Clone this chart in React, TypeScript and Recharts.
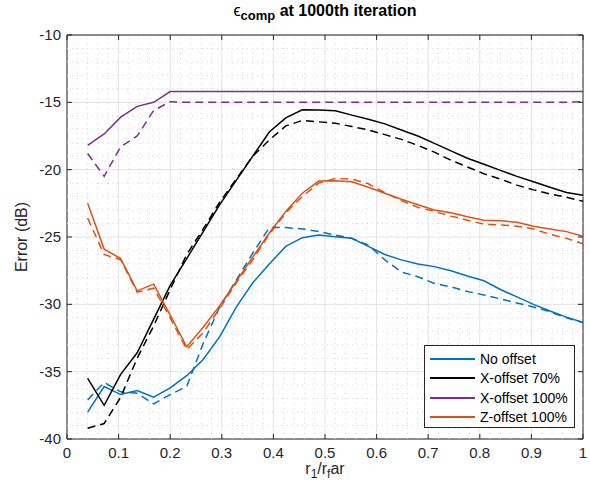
import React from 'react';
import {
  LineChart,
  Line,
  XAxis,
  YAxis,
  CartesianGrid,
  ReferenceLine,
  ReferenceArea
} from 'recharts';

// r1/rfar sample positions
const xValues = [
  0.04, 0.072, 0.104, 0.136, 0.168, 0.2, 0.232, 0.264, 0.296, 0.328, 0.36,
  0.392, 0.424, 0.456, 0.488, 0.52, 0.552, 0.584, 0.616, 0.648, 0.68, 0.712,
  0.744, 0.776, 0.808, 0.84, 0.872, 0.904, 0.936, 0.968, 1.0
];

const noOffset = [
  -38.0, -36.1, -36.7, -36.4, -36.9, -36.2, -35.3, -34.1, -32.4, -30.2, -28.4,
  -27.0, -25.7, -25.05, -24.85, -24.98, -25.1, -25.7, -26.3, -26.7, -27.0, -27.2,
  -27.5, -27.9, -28.25, -28.9, -29.45, -30.0, -30.5, -30.95, -31.35
];
const noOffsetDash = [
  -37.1, -35.8, -36.5, -36.6, -37.4, -36.7, -36.1, -32.9, -30.2, -28.2, -26.2,
  -24.3, -24.3, -24.4, -24.6, -24.85, -25.1, -25.6, -26.7, -27.6, -27.95, -28.45,
  -28.7, -29.05, -29.3, -29.6, -29.9, -30.2, -30.55, -31.0, -31.35
];

const xOffset70 = [
  -35.5, -37.5, -35.2, -33.6, -31.1, -28.6, -26.6, -24.6, -22.6, -20.8, -19.0,
  -17.2, -16.15, -15.55, -15.57, -15.62, -15.95, -16.25, -16.6, -17.05, -17.5, -18.05,
  -18.6, -19.15, -19.6, -20.05, -20.5, -20.9, -21.3, -21.7, -21.9
];
const xOffset70Dash = [
  -39.2, -38.85, -36.9, -34.0, -31.6, -28.9, -26.3, -24.4, -22.4, -20.7, -19.0,
  -17.8, -16.75, -16.35, -16.45, -16.55, -16.8, -17.05, -17.4, -17.75, -18.2, -18.7,
  -19.3, -19.8, -20.3, -20.7, -21.15, -21.5, -21.8, -22.05, -22.35
];

const xOffset100 = [
  -18.2, -17.35, -16.1, -15.3, -15.0, -14.2, -14.2, -14.2, -14.2, -14.2, -14.2,
  -14.2, -14.2, -14.2, -14.2, -14.2, -14.2, -14.2, -14.2, -14.2, -14.2, -14.2,
  -14.2, -14.2, -14.2, -14.2, -14.2, -14.2, -14.2, -14.2, -14.2
];
const xOffset100Dash = [
  -18.8, -20.5, -18.3, -17.5, -15.6, -14.95, -15.0, -15.0, -15.0, -15.0, -15.0,
  -15.0, -15.0, -15.0, -15.0, -15.0, -15.0, -15.0, -15.0, -15.0, -15.0, -15.0,
  -15.0, -15.0, -15.0, -15.0, -15.0, -15.0, -15.0, -15.0, -14.95
];

const zOffset100 = [
  -22.5, -25.9, -26.6, -29.0, -28.5, -30.8, -33.15, -31.7, -30.1, -28.3, -26.5,
  -24.7, -23.1, -21.75, -20.85, -20.82, -20.9, -21.3, -21.75, -22.2, -22.6, -23.0,
  -23.2, -23.5, -23.75, -23.8, -23.9, -24.2, -24.4, -24.6, -24.95
];
const zOffset100Dash = [
  -23.6, -26.3, -26.7, -29.1, -28.8, -31.0, -33.35, -32.1, -30.3, -28.4, -26.7,
  -24.8, -23.2, -22.0, -21.0, -20.65, -20.7, -21.05, -21.7, -22.3, -22.8, -23.1,
  -23.45, -23.75, -24.05, -24.1, -24.2, -24.4, -24.8, -25.1, -25.5
];

const xTicks = [0, 0.1, 0.2, 0.3, 0.4, 0.5, 0.6, 0.7, 0.8, 0.9, 1];
const yTicks = [-40, -35, -30, -25, -20, -15, -10];

const legendItems = [
  { name: 'No offset', color: '#0072BD' },
  { name: 'X-offset 70%', color: '#000000' },
  { name: 'X-offset 100%', color: '#7E2F8E' },
  { name: 'Z-offset 100%', color: '#D95319' }
];

const data = xValues.map((x, i) => ({
  x,
  noOffset: noOffset[i],
  noOffsetDash: noOffsetDash[i],
  xOffset70: xOffset70[i],
  xOffset70Dash: xOffset70Dash[i],
  xOffset100: xOffset100[i],
  xOffset100Dash: xOffset100Dash[i],
  zOffset100: zOffset100[i],
  zOffset100Dash: zOffset100Dash[i]
}));

// minor grid: 0.02 steps on x, 1 dB on y (skip majors)
const xMinor: number[] = [];
for (let k = 1; k < 50; k++) if (k % 5 !== 0) xMinor.push(k / 50);
const yMinor: number[] = [];
for (let k = -39; k < -10; k++) if (k % 5 !== 0) yMinor.push(k);

const FONT = '"Liberation Sans", Arial, Helvetica, sans-serif';
const AXIS = '#262626';
const PLOT_W = 516;
const PLOT_H = 404;

const XTick = (props: any) => {
  const { x, y, payload } = props;
  return (
    <g>
      <line x1={x} y1={y} x2={x} y2={y - 5} stroke={AXIS} />
      <line x1={x} y1={y - PLOT_H} x2={x} y2={y - PLOT_H + 5} stroke={AXIS} />
      <text x={x} y={y + 19} textAnchor="middle" fill={AXIS} fontSize={15} fontFamily={FONT}>
        {String(payload.value)}
      </text>
    </g>
  );
};

const YTick = (props: any) => {
  const { x, y, payload } = props;
  return (
    <g>
      <line x1={x} y1={y} x2={x + 5} y2={y} stroke={AXIS} />
      <line x1={x + PLOT_W} y1={y} x2={x + PLOT_W - 5} y2={y} stroke={AXIS} />
      <text x={x - 6} y={y + 5} textAnchor="end" fill={AXIS} fontSize={15} fontFamily={FONT}>
        {String(payload.value)}
      </text>
    </g>
  );
};

export default function App() {
  return (
    <div style={{ position: 'absolute', left: 0, top: 0, width: 590, height: 493, background: '#fff', fontFamily: FONT }}>
      <LineChart width={590} height={493} data={data} margin={{ top: 35, right: 7, bottom: 0, left: 0 }}>
        <CartesianGrid stroke="#e3e3e3" />
        {xMinor.map((v) => (
          <ReferenceLine key={'vx' + v} x={v} stroke="#d6d6d6" strokeDasharray="1 4" />
        ))}
        {yMinor.map((v) => (
          <ReferenceLine key={'hy' + v} y={v} stroke="#d6d6d6" strokeDasharray="1 4" />
        ))}
        <XAxis
          dataKey="x"
          type="number"
          domain={[0, 1]}
          ticks={xTicks}
          height={54}
          tickSize={0}
          tickMargin={0}
          axisLine={false}
          tickLine={false}
          tick={<XTick />}
          interval={0}
        />
        <YAxis
          type="number"
          domain={[-40, -10]}
          ticks={yTicks}
          width={67}
          tickSize={0}
          tickMargin={0}
          axisLine={false}
          tickLine={false}
          tick={<YTick />}
          interval={0}
        />
        <ReferenceArea x1={0} x2={1} y1={-40} y2={-10} fill="none" stroke={AXIS} strokeWidth={1} />
        <Line type="linear" dataKey="noOffsetDash" stroke="#0072BD" strokeWidth={1.5} strokeDasharray="8 5" dot={false} isAnimationActive={false} />
        <Line type="linear" dataKey="xOffset70Dash" stroke="#000000" strokeWidth={1.5} strokeDasharray="8 5" dot={false} isAnimationActive={false} />
        <Line type="linear" dataKey="xOffset100Dash" stroke="#7E2F8E" strokeWidth={1.5} strokeDasharray="8 5" dot={false} isAnimationActive={false} />
        <Line type="linear" dataKey="zOffset100Dash" stroke="#D95319" strokeWidth={1.5} strokeDasharray="8 5" dot={false} isAnimationActive={false} />
        <Line type="linear" dataKey="noOffset" stroke="#0072BD" strokeWidth={1.5} dot={false} isAnimationActive={false} />
        <Line type="linear" dataKey="xOffset70" stroke="#000000" strokeWidth={1.5} dot={false} isAnimationActive={false} />
        <Line type="linear" dataKey="xOffset100" stroke="#7E2F8E" strokeWidth={1.5} dot={false} isAnimationActive={false} />
        <Line type="linear" dataKey="zOffset100" stroke="#D95319" strokeWidth={1.5} dot={false} isAnimationActive={false} />
      </LineChart>

      {/* legend box, bottom right of plot */}
      <div
        style={{
          position: 'absolute',
          left: 424,
          top: 345,
          width: 151,
          height: 83,
          border: '1px solid #262626',
          background: '#fff',
          boxSizing: 'border-box',
          paddingTop: 3
        }}
      >
        {legendItems.map((it) => (
          <div key={it.name} style={{ display: 'flex', alignItems: 'center', height: 19.5 }}>
            <div style={{ width: 45, height: 0, borderTop: `2px solid ${it.color}`, marginLeft: 5, marginRight: 5 }} />
            <span style={{ fontSize: 14, color: '#000', whiteSpace: 'nowrap' }}>{it.name}</span>
          </div>
        ))}
      </div>

      <div
        style={{
          position: 'absolute',
          left: 67,
          width: 516,
          top: 2,
          textAlign: 'center',
          fontWeight: 'bold',
          fontSize: 16,
          color: '#000'
        }}
      >
        <span style={{ fontWeight: 'normal' }}>ϵ</span>
        <sub style={{ fontSize: 13 }}>comp</sub> at 1000th iteration
      </div>
      <div
        style={{
          position: 'absolute',
          left: 67,
          width: 516,
          top: 460,
          textAlign: 'center',
          fontSize: 16,
          color: AXIS
        }}
      >
        r<sub style={{ fontSize: 12 }}>1</sub>/r<sub style={{ fontSize: 12 }}>f</sub>ar
      </div>
      <div
        style={{
          position: 'absolute',
          left: 22,
          top: 237,
          transform: 'translate(-50%, -50%) rotate(-90deg)',
          fontSize: 16,
          color: AXIS,
          whiteSpace: 'nowrap'
        }}
      >
        Error (dB)
      </div>
    </div>
  );
}
